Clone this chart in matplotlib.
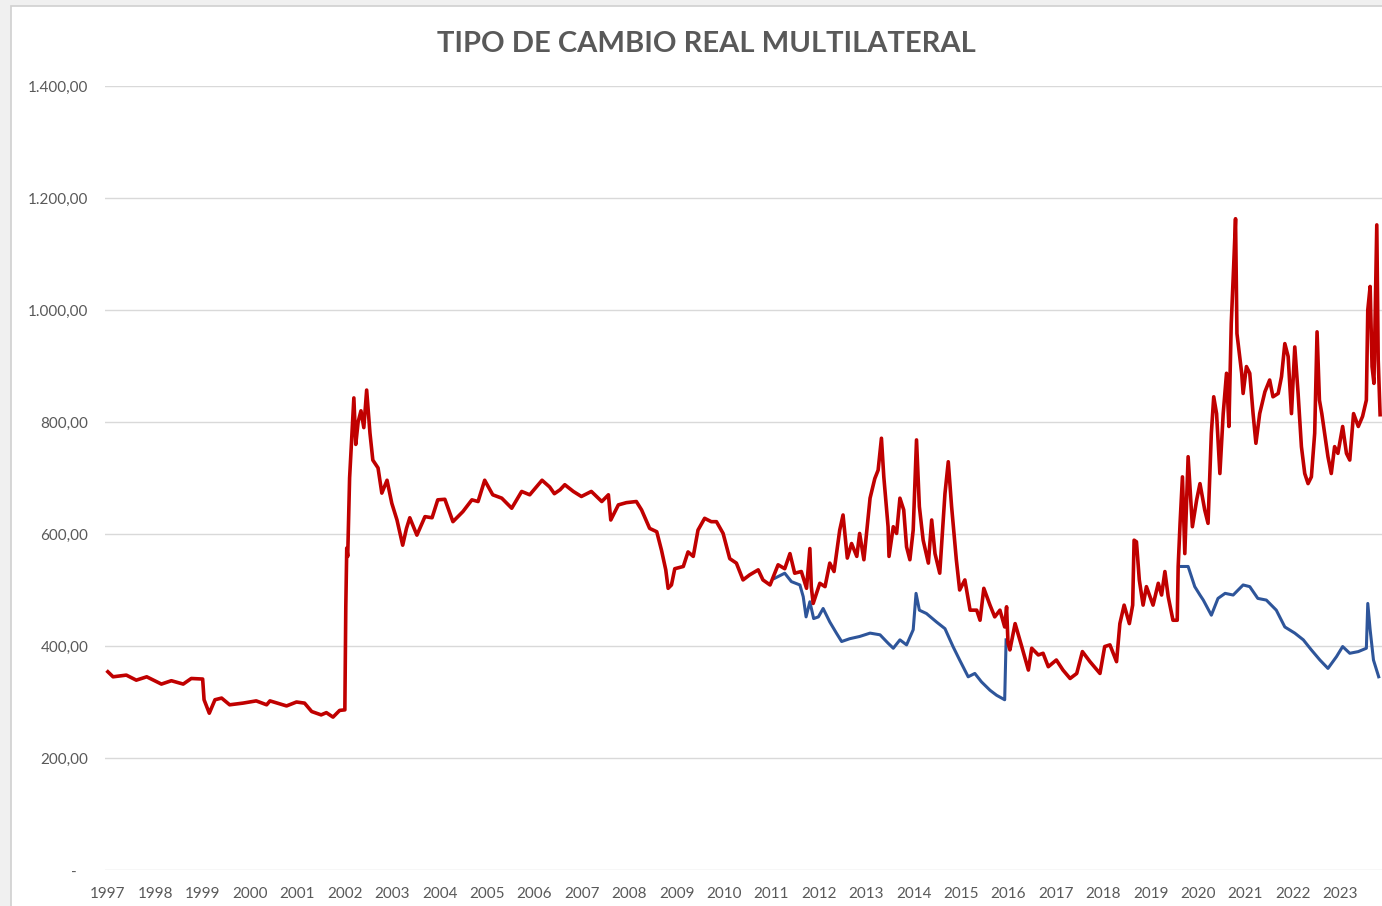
import matplotlib
matplotlib.use("Agg")
import matplotlib.pyplot as plt
from matplotlib.patches import Rectangle
from matplotlib.ticker import FixedLocator, FuncFormatter
import numpy as np

# ---------------- data ----------------
red_years = [
    1997.00, 1997.11, 1997.39, 1997.60, 1997.82, 1998.13, 1998.34, 1998.59, 1998.76,
    1999.00, 1999.03, 1999.14, 1999.26, 1999.40, 1999.57, 1999.85, 2000.13, 2000.35,
    2000.42, 2000.77, 2000.98, 2001.15, 2001.30, 2001.50, 2001.61, 2001.75, 2001.89,
    2002.00, 2002.02, 2002.04, 2002.06, 2002.10, 2002.19, 2002.23, 2002.28, 2002.34,
    2002.40, 2002.46, 2002.53, 2002.59, 2002.70, 2002.78, 2002.89, 2002.99, 2003.10,
    2003.22, 2003.30, 2003.37, 2003.52, 2003.69, 2003.84, 2003.96, 2004.11, 2004.28,
    2004.49, 2004.68, 2004.81, 2004.95, 2005.12, 2005.31, 2005.52, 2005.73, 2005.90,
    2006.16, 2006.32, 2006.42, 2006.54, 2006.64, 2006.82, 2006.99, 2007.20, 2007.42,
    2007.56, 2007.61, 2007.77, 2007.94, 2008.15, 2008.26, 2008.43, 2008.58, 2008.68,
    2008.77, 2008.82, 2008.89, 2008.96, 2009.14, 2009.24, 2009.35, 2009.45, 2009.59,
    2009.73, 2009.84, 2009.98, 2010.12, 2010.26, 2010.40, 2010.54, 2010.72, 2010.82,
    2010.97, 2011.14, 2011.28, 2011.39, 2011.49, 2011.63, 2011.74, 2011.81, 2011.84,
    2011.88, 2012.02, 2012.13, 2012.23, 2012.32, 2012.44, 2012.51, 2012.60, 2012.69,
    2012.80, 2012.86, 2012.95, 2013.08, 2013.18, 2013.25, 2013.32, 2013.37, 2013.46,
    2013.48, 2013.57, 2013.64, 2013.71, 2013.79, 2013.85, 2013.92, 2013.99, 2014.06,
    2014.12, 2014.20, 2014.31, 2014.38, 2014.45, 2014.55, 2014.66, 2014.73, 2014.80,
    2014.90, 2014.97, 2015.08, 2015.19, 2015.33, 2015.40, 2015.48, 2015.61, 2015.71,
    2015.82, 2015.92, 2015.96, 2015.99, 2016.03, 2016.14, 2016.28, 2016.42, 2016.49,
    2016.63, 2016.73, 2016.84, 2017.01, 2017.15, 2017.30, 2017.44, 2017.56, 2017.72,
    2017.93, 2018.03, 2018.14, 2018.28, 2018.35, 2018.44, 2018.55, 2018.62, 2018.65,
    2018.70, 2018.76, 2018.84, 2018.91, 2019.05, 2019.16, 2019.23, 2019.30, 2019.37,
    2019.47, 2019.56, 2019.58, 2019.62, 2019.67, 2019.72, 2019.79, 2019.88, 2019.97,
    2020.04, 2020.14, 2020.21, 2020.28, 2020.33, 2020.39, 2020.46, 2020.53, 2020.60,
    2020.65, 2020.70, 2020.75, 2020.79, 2020.82, 2020.87, 2020.92, 2020.95, 2021.02,
    2021.09, 2021.16, 2021.22, 2021.30, 2021.41, 2021.51, 2021.58, 2021.69, 2021.76,
    2021.83, 2021.90, 2021.97, 2022.04, 2022.11, 2022.18, 2022.25, 2022.32, 2022.39,
    2022.46, 2022.51, 2022.56, 2022.61, 2022.67, 2022.74, 2022.81, 2022.88, 2022.95,
    2023.05, 2023.13, 2023.20, 2023.28, 2023.38, 2023.47, 2023.55, 2023.58, 2023.63,
    2023.67, 2023.71, 2023.77, 2023.80, 2023.84,
]
red_values = [
    354, 345, 348, 339, 345, 332, 338, 332, 342,
    341, 304, 280, 304, 307, 295, 298, 302, 295,
    302, 293, 300, 298, 283, 277, 281, 273, 285,
    286, 470, 575, 560, 700, 843, 760, 800, 820,
    790, 857, 780, 732, 718, 673, 696, 655, 625,
    580, 610, 629, 598, 631, 629, 661, 662, 622,
    640, 661, 658, 696, 670, 664, 646, 676, 670,
    696, 684, 672, 679, 688, 676, 667, 676, 658,
    670, 625, 652, 656, 658, 643, 610, 604, 571,
    536, 503, 509, 538, 542, 568, 560, 607, 628,
    622, 622, 601, 556, 548, 518, 527, 536, 518,
    509, 545, 538, 565, 530, 533, 503, 574, 506,
    476, 512, 506, 548, 533, 607, 634, 557, 583,
    560, 601, 554, 664, 699, 714, 771, 702, 613,
    560, 613, 601, 664, 643, 577, 554, 607, 768,
    649, 589, 548, 625, 565, 530, 672, 729, 649,
    554, 500, 518, 464, 464, 446, 503, 473, 452,
    464, 434, 470, 405, 393, 440, 399, 357, 396,
    384, 387, 363, 375, 357, 342, 351, 390, 372,
    351, 399, 402, 372, 440, 473, 440, 473, 589,
    586, 518, 473, 506, 473, 512, 491, 533, 488,
    446, 446, 542, 619, 702, 565, 738, 613, 661,
    690, 643, 619, 780, 845, 815, 708, 815, 887,
    792, 976, 1077, 1163, 958, 923, 887, 851, 899,
    887, 815, 762, 815, 854, 875, 845, 851, 881,
    940, 917, 815, 934, 851, 756, 708, 690, 702,
    780, 961, 839, 815, 780, 738, 708, 756, 744,
    792, 744, 732, 815, 792, 810, 839, 1000, 1042,
    899, 869, 1152, 911, 813,
]

# official-rate series: shown 2011-2015 and again from late 2019 (hidden under red in between)
blue_years = [
    2011.07, 2011.28, 2011.42, 2011.60, 2011.67, 2011.73, 2011.81, 2011.89, 2011.99,
    2012.09, 2012.23, 2012.37, 2012.48, 2012.65, 2012.86, 2013.08, 2013.29, 2013.46,
    2013.57, 2013.71, 2013.85, 2013.99, 2014.05, 2014.12, 2014.27, 2014.48, 2014.66,
    2014.83, 2014.97, 2015.15, 2015.29, 2015.43, 2015.61, 2015.75, 2015.92, 2015.95,
    2017.50,
    2019.65, 2019.79, 2019.93, 2020.04, 2020.11, 2020.28, 2020.42, 2020.57, 2020.74,
    2020.95, 2021.09, 2021.26, 2021.44, 2021.65, 2021.83, 2022.04, 2022.22, 2022.39,
    2022.57, 2022.74, 2022.92, 2023.05, 2023.20, 2023.38, 2023.55, 2023.58, 2023.63,
    2023.70, 2023.81,
]
blue_values = [
    521, 530, 515, 509, 488, 452, 479, 449, 452,
    467, 443, 423, 408, 413, 417, 423, 420, 405,
    396, 411, 402, 429, 494, 464, 458, 443, 431,
    399, 375, 345, 351, 336, 321, 312, 304, 411,
    np.nan,
    542, 542, 506, 491, 482, 455, 485, 494, 491,
    509, 506, 485, 482, 464, 434, 423, 411, 393,
    375, 360, 381, 399, 387, 390, 396, 476, 429,
    375, 345,
]

year_labels = [str(y) for y in range(1997, 2024)]
y_ticks = [0, 200, 400, 600, 800, 1000, 1200, 1400]
title = "TIPO DE CAMBIO REAL MULTILATERAL"

# ---------------- styling ----------------
RED = "#C00000"
BLUE = "#2E559A"
TXT = "#595959"
GRID = "#D9D9D9"
FONT = ["Lato", "DejaVu Sans"]
plt.rcParams["font.family"] = FONT

W, H = 1382, 906
fig = plt.figure(figsize=(W / 100, H / 100), dpi=100, facecolor="#F0F0F0")

# white chart area with a thin border (behind everything)
fig.patches.append(Rectangle((11 / W, -0.01), 1.1, 1 - 6 / H + 0.01,
                             transform=fig.transFigure, facecolor="white",
                             edgecolor="#D0D0D0", linewidth=1.2, zorder=-10))

ax_left, ax_right, ax_bottom, ax_top = 105, 1382, 870, 86
ax = fig.add_axes([ax_left / W, 1 - ax_bottom / H,
                   (ax_right - ax_left) / W, (ax_bottom - ax_top) / H])
ax.set_facecolor("none")
ax.set_zorder(5)

ax.plot(blue_years, blue_values, color=BLUE, linewidth=2.2, zorder=3,
        solid_joinstyle="round")
ax.plot(red_years, red_values, color=RED, linewidth=2.6, zorder=4,
        solid_joinstyle="round")

ax.set_ylim(0, 1400)
ax.set_xlim(1996.94, 2023.88)

ax.yaxis.set_major_locator(FixedLocator(y_ticks))


def fmt_es(v, pos):
    if v == 0:
        return "-   "
    s = f"{v:,.2f}"
    return s.replace(",", "X").replace(".", ",").replace("X", ".")


ax.yaxis.set_major_formatter(FuncFormatter(fmt_es))
ax.set_xticks([float(y) for y in year_labels])
ax.set_xticklabels(year_labels)

ax.grid(axis="y", color=GRID, linewidth=1.0)
ax.grid(axis="x", visible=False)
ax.set_axisbelow(True)
for sp in ax.spines.values():
    sp.set_visible(False)

ax.tick_params(axis="y", length=0, pad=12, labelsize=11, labelcolor=TXT)
ax.tick_params(axis="x", length=0, pad=12, labelsize=11, labelcolor=TXT)

fig.text(706 / W, 1 - 44 / H, title, ha="center", va="center",
         fontsize=21, fontweight="bold", color=TXT)

fig.savefig("out.png", dpi=100, facecolor=fig.get_facecolor())
